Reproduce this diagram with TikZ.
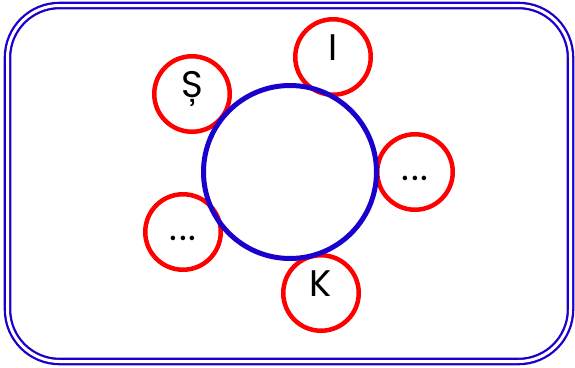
\documentclass[tikz,border=0pt]{standalone}
\usepackage{fontspec}
\setmainfont{Poppins}
\definecolor{frameblue}{RGB}{26,0,204}
\definecolor{ringred}{RGB}{255,0,0}
\newcommand{\ringdots}{\raisebox{-5pt}{\makebox[9.5pt]{.}\makebox[9.5pt]{.}\makebox[9.5pt]{.}}}
\tikzset{
  frame/.style={draw=frameblue, double=white, line width=2.3pt, double distance=3pt,
    rounded corners=52pt, inner sep=0pt},
  hub/.style={circle, draw=frameblue, line width=5pt, minimum size=173pt, inner sep=0pt},
  ring/.style={circle, draw=ringred, line width=4.5pt, minimum size=75.5pt, inner sep=0pt,
    font=\fontsize{37}{37}\selectfont, text height=0.7em, text depth=0pt},
}
\begin{document}
\begin{tikzpicture}[x=1pt,y=-1pt]
\useasboundingbox (0,0) rectangle (575,367);
\node[frame, minimum width=563pt, minimum height=356pt] (box) at (289,183.5) {};
\node[ring] (s) at (192,94) {Ș};
\node[ring] (i) at (333,57) {I};
\node[ring] (r) at (415,172) {\ringdots};
\node[ring] (l) at (183,232) {\ringdots};
\node[ring] (k) at (321,293) {K};
\node[hub] (c) at (290,172) {};
\end{tikzpicture}
\end{document}
